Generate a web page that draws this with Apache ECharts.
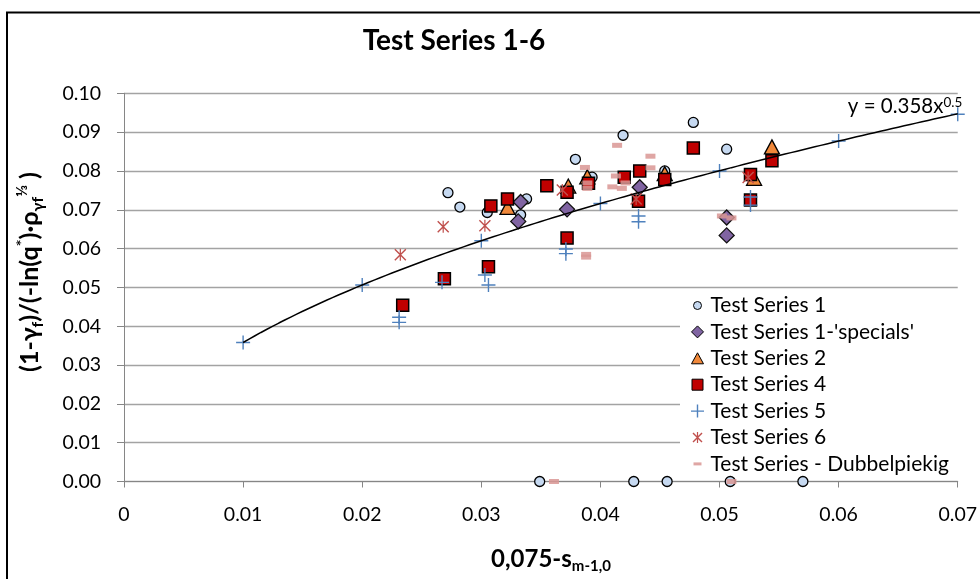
<!DOCTYPE html>
<html>
<head>
<meta charset="utf-8">
<script src="https://cdn.jsdelivr.net/npm/echarts@6/dist/echarts.min.js"></script>
<style>
  html, body { margin: 0; padding: 0; background: #fff; }
  #chart { width: 980px; height: 579px; }
</style>
</head>
<body>
<div id="chart"></div>
<script>
// ---- data: [x, y] pairs per test series ----
const series1 = [
  [0.0272, 0.0744], [0.0282, 0.0707], [0.0305, 0.0693], [0.0338, 0.0728],
  [0.0333, 0.0687], [0.0379, 0.0830], [0.0393, 0.0784], [0.0419, 0.0892],
  [0.0454, 0.0800], [0.0478, 0.0925], [0.0506, 0.0856],
  [0.0349, 0], [0.0428, 0], [0.0456, 0], [0.0509, 0], [0.0570, 0]
];
const series1Specials = [
  [0.0333, 0.0720], [0.0331, 0.0670], [0.0372, 0.0701], [0.0433, 0.0758],
  [0.0506, 0.0680], [0.0506, 0.0634]
];
const series2 = [
  [0.0322, 0.0706], [0.0373, 0.0761], [0.0389, 0.0785], [0.0454, 0.0793],
  [0.0529, 0.0781], [0.0544, 0.0862]
];
const series4 = [
  [0.0234, 0.0454], [0.0269, 0.0522], [0.0306, 0.0553], [0.0308, 0.0710],
  [0.0322, 0.0728], [0.0355, 0.0762], [0.0372, 0.0745], [0.0372, 0.0627],
  [0.0390, 0.0768], [0.0420, 0.0784], [0.0433, 0.0800], [0.0432, 0.0722],
  [0.0454, 0.0778], [0.0478, 0.0859], [0.0526, 0.0791], [0.0526, 0.0725],
  [0.0544, 0.0826]
];
const series5 = [
  [0.0100, 0.0358], [0.0200, 0.0506], [0.0300, 0.0620], [0.0400, 0.0716],
  [0.0500, 0.0800], [0.0600, 0.0877], [0.0700, 0.0946],
  [0.0267, 0.0513], [0.0231, 0.0423], [0.0231, 0.0410], [0.0303, 0.0532],
  [0.0306, 0.0506], [0.0371, 0.0599], [0.0371, 0.0587], [0.0432, 0.0684],
  [0.0432, 0.0669], [0.0526, 0.0733], [0.0526, 0.0712]
];
const series6 = [
  [0.0232, 0.0584], [0.0268, 0.0656], [0.0303, 0.0659], [0.0368, 0.0751],
  [0.0430, 0.0728], [0.0524, 0.0783]
];
const seriesDubbel = [
  [0.0387, 0.0809], [0.0389, 0.0769], [0.0389, 0.0755], [0.0388, 0.0585],
  [0.0388, 0.0578], [0.0414, 0.0866], [0.0442, 0.0838], [0.0442, 0.0808],
  [0.0413, 0.0787], [0.0410, 0.0759], [0.0418, 0.0755], [0.0421, 0.0769],
  [0.0502, 0.0684], [0.0510, 0.0679], [0.0361, 0], [0.0510, 0]
];

// power trendline y = a * x^b, as printed on the chart
const TREND_A = 0.358;
const TREND_B = 0.5;
const TREND_X_FROM = 0.01;
const TREND_X_TO = 0.07;

// axis ranges
const X_MIN = 0, X_MAX = 0.07, X_STEP = 0.01;
const Y_MIN = 0, Y_MAX = 0.10, Y_STEP = 0.01;

const trend = [];
for (let i = 0; i <= 120; i++) {
  const x = TREND_X_FROM + (TREND_X_TO - TREND_X_FROM) * i / 120;
  trend.push([x, TREND_A * Math.pow(x, TREND_B)]);
}

const FONT = 'Lato';

// marker shapes (the M0,0 M14,14 moves keep a fixed 14x14 frame for legend icons)
const ICON = {
  circle:   'path://M0,0M14,14M11,7A4,4,0,1,1,3,7A4,4,0,1,1,11,7Z',
  diamond:  'path://M0,0M14,14M7,1L13,7L7,13L1,7Z',
  triangle: 'path://M0,0M14,14M7,1.5L13,12.5L1,12.5Z',
  square:   'path://M0,0M14,14M1.5,1.5H12.5V12.5H1.5Z',
  plus:     'path://M0,0M14,14M6.3,0.5H7.7V13.5H6.3ZM0.5,6.3H13.5V7.7H0.5Z',
  star:     'path://M0,0M14,14M2,3L3,2L12,11L11,12ZM11,2L12,3L3,12L2,11ZM6.4,1.5H7.6V12.5H6.4Z',
  dash:     'path://M0,0M14,14M3,5.5H11V8.5H3Z'
};
const PLUS_SYMBOL = 'path://M6.3,0H7.7V14H6.3ZM0,6.3H14V7.7H0Z';
const STAR_SYMBOL = 'path://M0,1L1,0L12,11L11,12ZM11,0L12,1L1,12L0,11ZM5.4,0H6.6V12H5.4Z';

const C = {
  s1: '#C6D9F1', sp: '#8064A2', s2: '#F0883A', s4: '#C00000',
  s5: '#4F81BD', s6: '#C0504D', db: 'rgba(217,150,148,0.85)'
};

const chart = echarts.init(document.getElementById('chart'), null, { renderer: 'canvas' });

const scatterBase = { type: 'scatter', silent: true, emphasis: { disabled: true } };

chart.setOption({
  animation: false,
  backgroundColor: '#fff',
  grid: { left: 124, right: 18, top: 93.3, bottom: 97.5, containLabel: false },
  xAxis: {
    type: 'value', min: X_MIN, max: X_MAX, interval: X_STEP,
    axisLine: { show: true, onZero: false, lineStyle: { color: '#868686', width: 1 } },
    axisTick: { show: true, length: 6, lineStyle: { color: '#868686' } },
    splitLine: { show: false },
    axisLabel: {
      fontFamily: FONT, fontSize: 19.5, color: '#000', margin: 23,
      formatter: v => (v === 0 ? '0' : v.toFixed(2))
    }
  },
  yAxis: {
    type: 'value', min: Y_MIN, max: Y_MAX, interval: Y_STEP,
    axisLine: { show: true, lineStyle: { color: '#868686', width: 1 } },
    axisTick: { show: true, length: 7, lineStyle: { color: '#868686' } },
    splitLine: { show: true, lineStyle: { color: '#a3a3a3', width: 1.3 } },
    axisLabel: {
      fontFamily: FONT, fontSize: 19.5, color: '#000', margin: 23,
      formatter: v => v.toFixed(2)
    }
  },
  legend: {
    orient: 'vertical', left: 680, top: 292, z: 1,
    padding: [3, 30, 2, 10],
    backgroundColor: '#fff',
    itemWidth: 14, itemHeight: 14, itemGap: 5.4,
    selectedMode: false,
    textStyle: { fontFamily: FONT, fontSize: 21, color: '#000', padding: [0, 0, 0, 1] },
    data: [
      { name: 'Test Series 1', icon: ICON.circle, itemStyle: { color: C.s1, borderColor: '#000', borderWidth: 1 } },
      { name: "Test Series 1-'specials'", icon: ICON.diamond, itemStyle: { color: C.sp, borderColor: '#000', borderWidth: 1 } },
      { name: 'Test Series 2', icon: ICON.triangle, itemStyle: { color: C.s2, borderColor: '#000', borderWidth: 1 } },
      { name: 'Test Series 4', icon: ICON.square, itemStyle: { color: C.s4, borderColor: '#000', borderWidth: 1 } },
      { name: 'Test Series 5', icon: ICON.plus, itemStyle: { color: C.s5, borderWidth: 0 } },
      { name: 'Test Series 6', icon: ICON.star, itemStyle: { color: C.s6, borderWidth: 0 } },
      { name: 'Test Series - Dubbelpiekig', icon: ICON.dash, itemStyle: { color: C.db, borderWidth: 0 } }
    ]
  },
  series: [
    Object.assign({}, scatterBase, {
      name: 'Test Series 1', data: series1, symbol: 'circle', symbolSize: 10,
      itemStyle: { color: C.s1, borderColor: '#000', borderWidth: 1.3, opacity: 1 }
    }),
    Object.assign({}, scatterBase, {
      name: "Test Series 1-'specials'", data: series1Specials, symbol: 'diamond', symbolSize: [15, 15],
      itemStyle: { color: C.sp, borderColor: '#111', borderWidth: 1.3, opacity: 1 }
    }),
    Object.assign({}, scatterBase, {
      name: 'Test Series 2', data: series2, symbol: 'triangle', symbolSize: [15, 14],
      itemStyle: { color: C.s2, borderColor: '#000', borderWidth: 1.3, opacity: 1 }
    }),
    Object.assign({}, scatterBase, {
      name: 'Test Series 4', data: series4, symbol: 'rect', symbolSize: 12,
      itemStyle: { color: C.s4, borderColor: '#000', borderWidth: 1.5, opacity: 1 }
    }),
    Object.assign({}, scatterBase, {
      name: 'Test Series 5', data: series5, symbol: PLUS_SYMBOL, symbolSize: 14,
      itemStyle: { color: C.s5, borderWidth: 0, opacity: 1 }
    }),
    Object.assign({}, scatterBase, {
      name: 'Test Series 6', data: series6, symbol: STAR_SYMBOL, symbolSize: 12,
      itemStyle: { color: C.s6, borderWidth: 0, opacity: 1 }
    }),
    Object.assign({}, scatterBase, {
      name: 'Test Series - Dubbelpiekig', data: seriesDubbel, symbol: 'rect', symbolSize: [10, 5],
      itemStyle: { color: C.db, borderWidth: 0, opacity: 1 }
    }),
    {
      name: 'trend', type: 'line', data: trend, showSymbol: false, symbol: 'none',
      silent: true, z: 5,
      lineStyle: { color: '#000', width: 1.5 },
      markPoint: {
        silent: true, symbol: 'circle', symbolSize: 1,
        itemStyle: { color: 'rgba(0,0,0,0)' },
        data: [{ coord: [TREND_X_TO, TREND_A * Math.pow(TREND_X_TO, TREND_B)] }],
        label: {
          show: true, position: [0, 0], align: 'right', verticalAlign: 'bottom', offset: [5, 4],
          formatter: '{a|y = ' + TREND_A + 'x}{s|' + TREND_B + '}',
          rich: {
            a: { fontFamily: FONT, fontSize: 20.5, color: '#000', lineHeight: 22 },
            s: { fontFamily: FONT, fontSize: 13.5, color: '#000', lineHeight: 12, verticalAlign: 'top' }
          }
        }
      }
    }
  ],
  graphic: [
    // outer chart frame
    { type: 'rect', silent: true, z: 10,
      shape: { x: 7, y: 12.5, width: 1000, height: 620 },
      style: { fill: 'none', stroke: '#000', lineWidth: 2 } },
    // chart title
    { type: 'text', silent: true, x: 454, y: 41,
      style: { text: 'Test Series 1-6', fill: '#000', font: 'bold 28px ' + FONT, align: 'center', verticalAlign: 'middle' } },
    // y axis title
    { type: 'text', silent: true, x: 30, y: 272, rotation: Math.PI / 2,
      style: {
        text: '{m|(1-γ}{b|f}{m|)/(-ln(q}{t|*}{m|)·ρ}{b|γf}{t|⅓}{m| )}',
        align: 'center', verticalAlign: 'middle', fill: '#000',
        rich: {
          m: { fontFamily: FONT, fontWeight: 'bold', fontSize: 25, lineHeight: 32, fill: '#000' },
          b: { fontFamily: FONT, fontWeight: 'bold', fontSize: 16, lineHeight: 14, verticalAlign: 'bottom', fill: '#000' },
          t: { fontFamily: FONT, fontWeight: 'bold', fontSize: 16, lineHeight: 14, verticalAlign: 'top', fill: '#000' }
        }
      } },
    // x axis title
    { type: 'text', silent: true, x: 551, y: 559,
      style: {
        text: '{m|0,075-s}{b|m-1,0}',
        align: 'center', verticalAlign: 'middle', fill: '#000',
        rich: {
          m: { fontFamily: FONT, fontWeight: 'bold', fontSize: 24, lineHeight: 30, fill: '#000' },
          b: { fontFamily: FONT, fontWeight: 'bold', fontSize: 15, lineHeight: 14, verticalAlign: 'bottom', fill: '#000' }
        }
      } }
  ]
});
</script>
</body>
</html>
